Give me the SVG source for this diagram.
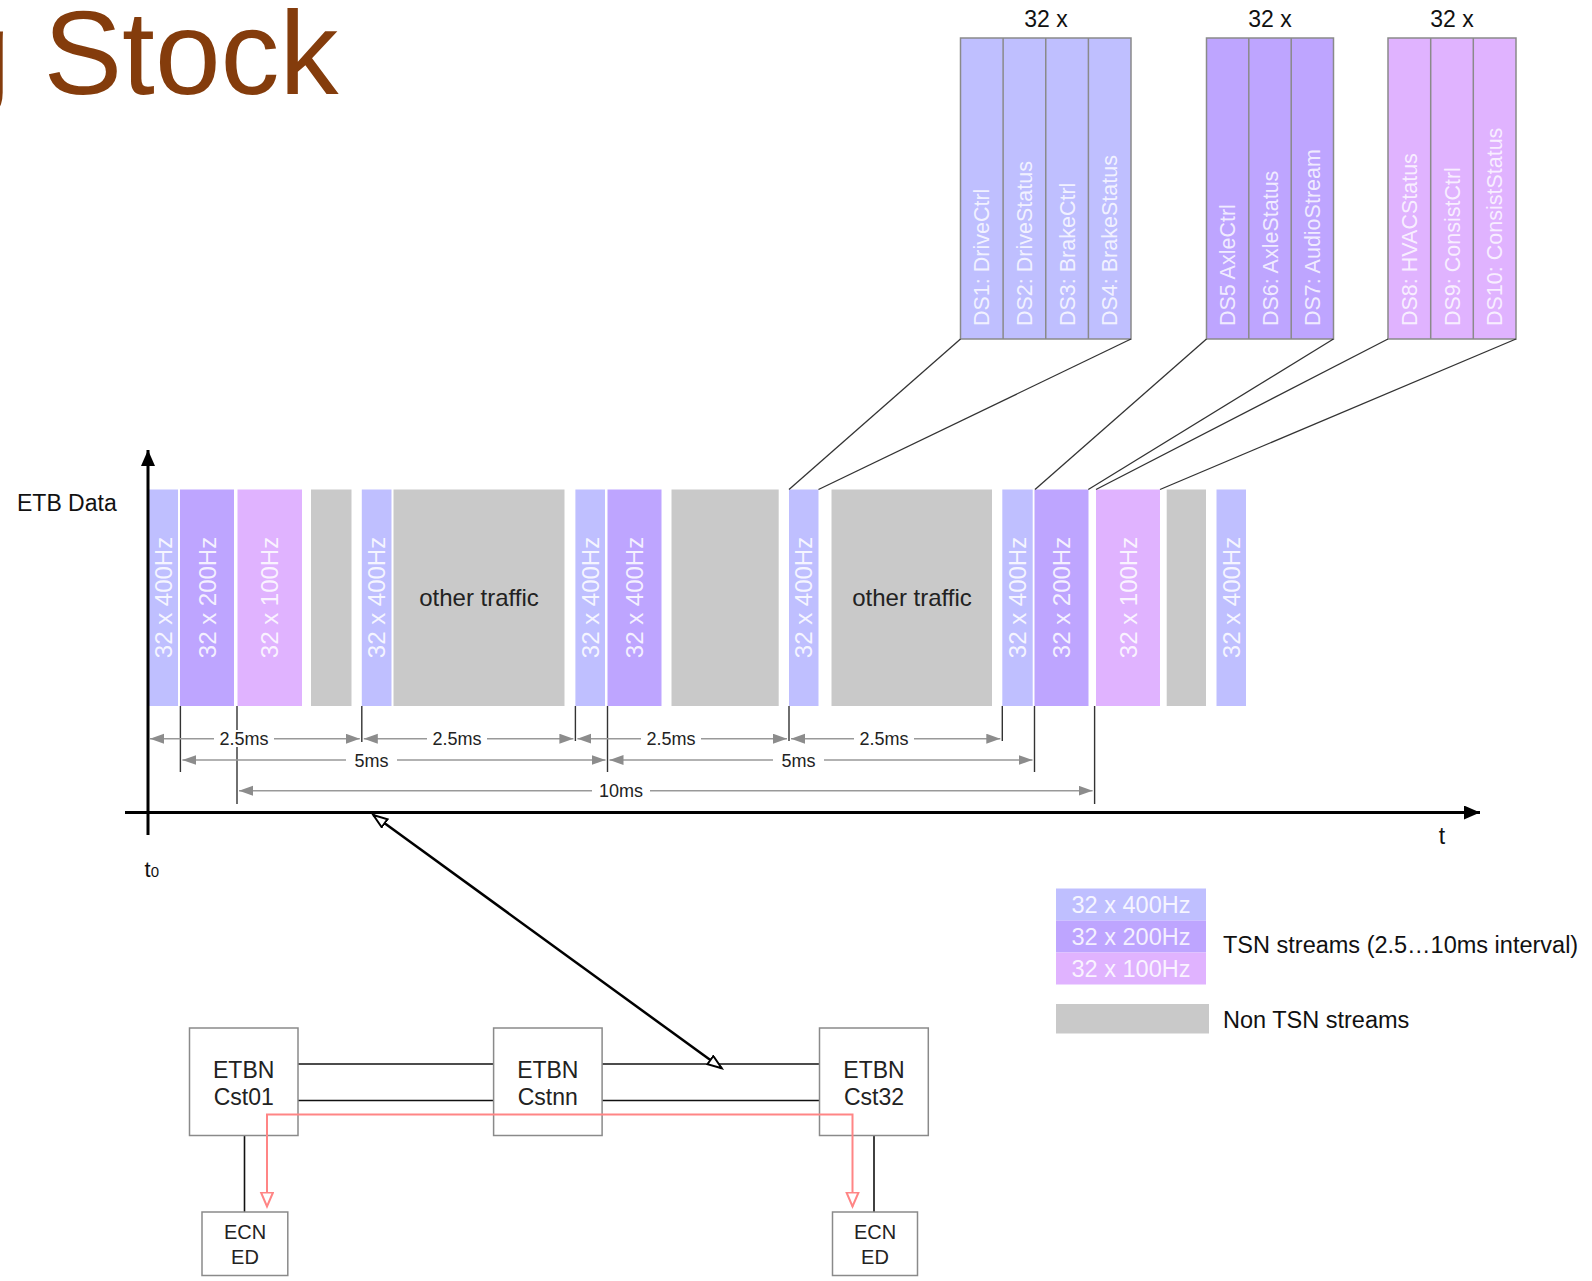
<svg xmlns="http://www.w3.org/2000/svg" width="1592" height="1281" viewBox="0 0 1592 1281">
<style>
text{font-family:"Liberation Sans",Arial,Helvetica,sans-serif}
.f4{fill:#bfbfff}.f2{fill:#bea5ff}.f1{fill:#e0b3ff}.fg{fill:#c9c9c9}
.bt{fill:#fff;fill-opacity:.85;font-size:24px;text-anchor:middle}
.ds{fill:#fff;fill-opacity:.8;font-size:21.5px}
.col{stroke:#8a8a8a;stroke-width:1.5}
.conn{stroke:#333;stroke-width:1.3;fill:none}
.tick{stroke:#333;stroke-width:1.4}
.dim{stroke:#999;stroke-width:1.5;fill:none;marker-start:url(#dimA);marker-end:url(#dimA)}
.dl{font-size:18px;fill:#222;text-anchor:middle}
.box{fill:#fff;stroke:#8a8a8a;stroke-width:1.5}
.bl{font-size:23px;fill:#222;text-anchor:middle}
.el{font-size:20px;fill:#222;text-anchor:middle}
.blk{stroke:#111;stroke-width:1.6}
</style>
<defs>
<marker id="dimA" markerUnits="userSpaceOnUse" markerWidth="16" markerHeight="12" refX="14" refY="5" orient="auto-start-reverse"><path d="M0,0 L14,5 L0,10 z" fill="#8c8c8c"/></marker>
<marker id="axA" markerUnits="userSpaceOnUse" markerWidth="18" markerHeight="16" refX="16" refY="7" orient="auto"><path d="M0,0 L16,7 L0,14 z" fill="#000"/></marker>
<marker id="openA" markerUnits="userSpaceOnUse" markerWidth="18" markerHeight="14" refX="15" refY="6" orient="auto-start-reverse"><path d="M1,1 L15,6 L1,11 z" fill="#fff" stroke="#000" stroke-width="2"/></marker>
<marker id="redA" markerUnits="userSpaceOnUse" markerWidth="18" markerHeight="16" refX="15" refY="7" orient="auto-start-reverse"><path d="M1,1 L15,7 L1,13 z" fill="#fff" stroke="#ff8585" stroke-width="2"/></marker>
</defs>

<text x="-55" y="94" font-size="118" fill="#843c0c">g Stock</text>

<!-- stream groups -->
<g id="group1">
<text x="1046" y="26.5" font-size="23" text-anchor="middle" fill="#111">32 x</text>
<rect class="f4 col" x="960.5" y="38" width="170.5" height="301"/>
<line class="col" x1="1003.1" y1="38" x2="1003.1" y2="339"/>
<line class="col" x1="1045.75" y1="38" x2="1045.75" y2="339"/>
<line class="col" x1="1088.4" y1="38" x2="1088.4" y2="339"/>
<text class="ds" transform="translate(989.3,326) rotate(-90)">DS1: DriveCtrl</text>
<text class="ds" transform="translate(1031.9,326) rotate(-90)">DS2: DriveStatus</text>
<text class="ds" transform="translate(1074.6,326) rotate(-90)">DS3: BrakeCtrl</text>
<text class="ds" transform="translate(1117.2,326) rotate(-90)">DS4: BrakeStatus</text>
</g>
<g id="group2">
<text x="1270" y="26.5" font-size="23" text-anchor="middle" fill="#111">32 x</text>
<rect class="f2 col" x="1206.5" y="38" width="127" height="301"/>
<line class="col" x1="1248.8" y1="38" x2="1248.8" y2="339"/>
<line class="col" x1="1291.2" y1="38" x2="1291.2" y2="339"/>
<text class="ds" transform="translate(1235.2,326) rotate(-90)">DS5 AxleCtrl</text>
<text class="ds" transform="translate(1277.5,326) rotate(-90)">DS6: AxleStatus</text>
<text class="ds" transform="translate(1319.8,326) rotate(-90)">DS7: AudioStream</text>
</g>
<g id="group3">
<text x="1452" y="26.5" font-size="23" text-anchor="middle" fill="#111">32 x</text>
<rect class="f1 col" x="1388" y="38" width="128" height="301"/>
<line class="col" x1="1430.7" y1="38" x2="1430.7" y2="339"/>
<line class="col" x1="1473.3" y1="38" x2="1473.3" y2="339"/>
<text class="ds" transform="translate(1416.8,326) rotate(-90)">DS8: HVACStatus</text>
<text class="ds" transform="translate(1459.5,326) rotate(-90)">DS9: ConsistCtrl</text>
<text class="ds" transform="translate(1502.1,326) rotate(-90)">DS10: ConsistStatus</text>
</g>

<text x="17" y="511" font-size="23" fill="#111">ETB Data</text>

<!-- bars -->
<g id="bars">
<rect class="f4" x="148" y="489.5" width="30" height="216.5"/>
<text class="bt" transform="translate(171.5,597.5) rotate(-90)">32 x 400Hz</text>
<rect class="f2" x="180" y="489.5" width="54" height="216.5"/>
<text class="bt" transform="translate(215.5,597.5) rotate(-90)">32 x 200Hz</text>
<rect class="f1" x="237.5" y="489.5" width="64.5" height="216.5"/>
<text class="bt" transform="translate(278.2,597.5) rotate(-90)">32 x 100Hz</text>
<rect class="fg" x="311" y="489.5" width="40.5" height="216.5"/>
<rect class="f4" x="361.8" y="489.5" width="29.7" height="216.5"/>
<text class="bt" transform="translate(385.2,597.5) rotate(-90)">32 x 400Hz</text>
<rect class="fg" x="393.5" y="489.5" width="171" height="216.5"/>
<text x="479" y="606" font-size="24" fill="#222" text-anchor="middle">other traffic</text>
<rect class="f4" x="575.4" y="489.5" width="29.6" height="216.5"/>
<text class="bt" transform="translate(598.7,597.5) rotate(-90)">32 x 400Hz</text>
<rect class="f2" x="607.5" y="489.5" width="54" height="216.5"/>
<text class="bt" transform="translate(643,597.5) rotate(-90)">32 x 400Hz</text>
<rect class="fg" x="671.5" y="489.5" width="107.2" height="216.5"/>
<rect class="f4" x="789" y="489.5" width="29.5" height="216.5"/>
<text class="bt" transform="translate(812.3,597.5) rotate(-90)">32 x 400Hz</text>
<rect class="fg" x="831.5" y="489.5" width="160.5" height="216.5"/>
<text x="912" y="606" font-size="24" fill="#222" text-anchor="middle">other traffic</text>
<rect class="f4" x="1002.3" y="489.5" width="30.4" height="216.5"/>
<text class="bt" transform="translate(1026,597.5) rotate(-90)">32 x 400Hz</text>
<rect class="f2" x="1034.5" y="489.5" width="54" height="216.5"/>
<text class="bt" transform="translate(1070,597.5) rotate(-90)">32 x 200Hz</text>
<rect class="f1" x="1096" y="489.5" width="64" height="216.5"/>
<text class="bt" transform="translate(1136.5,597.5) rotate(-90)">32 x 100Hz</text>
<rect class="fg" x="1166.7" y="489.5" width="39.3" height="216.5"/>
<rect class="f4" x="1216.5" y="489.5" width="29.5" height="216.5"/>
<text class="bt" transform="translate(1239.7,597.5) rotate(-90)">32 x 400Hz</text>
</g>

<!-- timing dimensions -->
<g id="timing">
<line class="tick" x1="180.4" y1="706" x2="180.4" y2="772"/>
<line class="tick" x1="237" y1="706" x2="237" y2="804"/>
<line class="tick" x1="361.8" y1="706" x2="361.8" y2="742"/>
<line class="tick" x1="575.4" y1="706" x2="575.4" y2="741"/>
<line class="tick" x1="607.5" y1="706" x2="607.5" y2="772"/>
<line class="tick" x1="789" y1="706" x2="789" y2="741"/>
<line class="tick" x1="1002.3" y1="706" x2="1002.3" y2="741"/>
<line class="tick" x1="1034.5" y1="706" x2="1034.5" y2="772"/>
<line class="tick" x1="1094.6" y1="706" x2="1094.6" y2="804"/>

<line class="dim" x1="150" y1="738.7" x2="359.8" y2="738.7"/>
<line class="dim" x1="363.8" y1="738.7" x2="573.4" y2="738.7"/>
<line class="dim" x1="577.4" y1="738.7" x2="787" y2="738.7"/>
<line class="dim" x1="791" y1="738.7" x2="1000.3" y2="738.7"/>
<line class="dim" x1="182.4" y1="760" x2="605.5" y2="760"/>
<line class="dim" x1="609.5" y1="760" x2="1032.5" y2="760"/>
<line class="dim" x1="239" y1="790.7" x2="1092.6" y2="790.7"/>

<g fill="#fff">
<rect x="214" y="730" width="60" height="17"/>
<rect x="427" y="730" width="60" height="17"/>
<rect x="641" y="730" width="60" height="17"/>
<rect x="854" y="730" width="60" height="17"/>
<rect x="346" y="752" width="51" height="17"/>
<rect x="773" y="752" width="51" height="17"/>
<rect x="592" y="782" width="58" height="17"/>
</g>
<text class="dl" x="244" y="745">2.5ms</text>
<text class="dl" x="457" y="745">2.5ms</text>
<text class="dl" x="671" y="745">2.5ms</text>
<text class="dl" x="884" y="745">2.5ms</text>
<text class="dl" x="371.5" y="766.5">5ms</text>
<text class="dl" x="798.5" y="766.5">5ms</text>
<text class="dl" x="621" y="797">10ms</text>
</g>

<!-- axes -->
<g id="axes">
<line x1="148" y1="835" x2="148" y2="450" stroke="#000" stroke-width="3" marker-end="url(#axA)"/>
<line x1="125" y1="812.5" x2="1480" y2="812.5" stroke="#000" stroke-width="3" marker-end="url(#axA)"/>
<text x="1442" y="844" font-size="23" text-anchor="middle" fill="#111">t</text>
<text x="144.5" y="876.5" font-size="22" fill="#111">t<tspan font-size="15">0</tspan></text>
</g>

<!-- legend -->
<g id="legend">
<rect class="f4" x="1056" y="888.5" width="150" height="32"/>
<rect class="f2" x="1056" y="920.5" width="150" height="32"/>
<rect class="f1" x="1056" y="952.5" width="150" height="32"/>
<text x="1131" y="913" font-size="23.5" fill="#fff" fill-opacity=".85" text-anchor="middle">32 x 400Hz</text>
<text x="1131" y="945" font-size="23.5" fill="#fff" fill-opacity=".85" text-anchor="middle">32 x 200Hz</text>
<text x="1131" y="977" font-size="23.5" fill="#fff" fill-opacity=".85" text-anchor="middle">32 x 100Hz</text>
<text x="1223" y="952.5" font-size="23.5" fill="#111">TSN streams (2.5…10ms interval)</text>
<rect class="fg" x="1056" y="1004" width="153" height="29.5"/>
<text x="1223" y="1027.5" font-size="23.5" fill="#111">Non TSN streams</text>
</g>

<!-- network -->
<g id="net-lines">
<line class="blk" x1="298" y1="1064" x2="493.6" y2="1064"/>
<line class="blk" x1="298" y1="1100.5" x2="493.6" y2="1100.5"/>
<line class="blk" x1="602" y1="1064" x2="819.5" y2="1064"/>
<line class="blk" x1="602" y1="1100.5" x2="819.5" y2="1100.5"/>
<line class="blk" x1="244.5" y1="1135.5" x2="244.5" y2="1212"/>
<line class="blk" x1="874" y1="1135.5" x2="874" y2="1212"/>
</g>
<g id="etbn-cst01">
<rect class="box" x="189.5" y="1028" width="108.5" height="107.5"/>
<text class="bl" x="243.7" y="1077.5">ETBN</text>
<text class="bl" x="243.7" y="1105">Cst01</text>
</g>
<g id="etbn-cstnn">
<rect class="box" x="493.6" y="1028" width="108.5" height="107.5"/>
<text class="bl" x="547.8" y="1077.5">ETBN</text>
<text class="bl" x="547.8" y="1105">Cstnn</text>
</g>
<g id="etbn-cst32">
<rect class="box" x="819.5" y="1028" width="108.8" height="107.5"/>
<text class="bl" x="874" y="1077.5">ETBN</text>
<text class="bl" x="874" y="1105">Cst32</text>
</g>
<g id="ecn-left">
<rect class="box" x="202" y="1212" width="85.8" height="63.5"/>
<text class="el" x="245" y="1238.5">ECN</text>
<text class="el" x="245" y="1264">ED</text>
</g>
<g id="ecn-right">
<rect class="box" x="832.5" y="1212" width="85" height="63.5"/>
<text class="el" x="875" y="1238.5">ECN</text>
<text class="el" x="875" y="1264">ED</text>
</g>

<g id="connectors">
<line class="conn" x1="960.5" y1="339" x2="789" y2="489.5"/>
<line class="conn" x1="1131" y1="339" x2="818.5" y2="489.5"/>
<line class="conn" x1="1206.5" y1="339" x2="1035" y2="489.5"/>
<line class="conn" x1="1333.5" y1="339" x2="1088.3" y2="489.5"/>
<line class="conn" x1="1388" y1="339" x2="1096" y2="489.5"/>
<line class="conn" x1="1516" y1="339" x2="1160" y2="489.5"/>
<path d="M373.3,815 L721.7,1068.3" stroke="#000" stroke-width="2.5" fill="none" marker-start="url(#openA)" marker-end="url(#openA)"/>
<path d="M267,1206.5 V1114.5 H852.5 V1206.5" stroke="#ff8585" stroke-width="2" fill="none" marker-start="url(#redA)" marker-end="url(#redA)"/>
</g>
</svg>
